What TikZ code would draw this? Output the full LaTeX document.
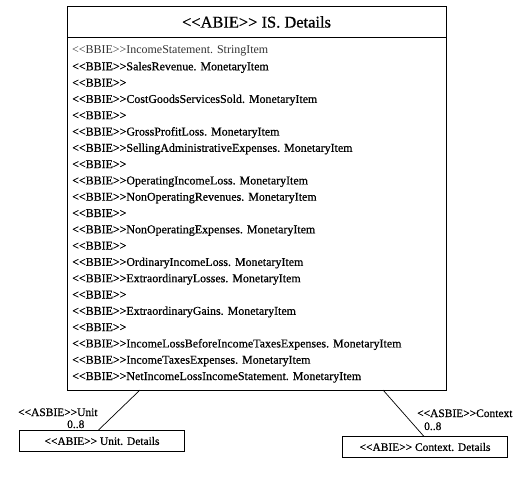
\documentclass[tikz,border=0pt]{standalone}
\usepackage{fontspec}
\setmainfont{Liberation Serif}
\newfontfamily\heavy{Liberation Serif}[FakeBold=0.6]
\newcommand{\bbie}{<\kern0pt<BBIE>\kern0pt>}
\newcommand{\abie}{<\kern0pt<ABIE>\kern0pt>}
\newcommand{\asbie}{<\kern0pt<ASBIE>\kern0pt>}
\begin{document}
\begin{tikzpicture}[x=1bp,y=-1bp,
  box/.style={draw, line width=0.9bp, inner sep=0},
  rowtxt/.style={anchor=base west, inner sep=0, font=\heavy\fontsize{12}{14}\selectfont},
  lab/.style={anchor=base west, inner sep=0, font=\heavy\fontsize{11.5}{13}\selectfont},
  conn/.style={draw, line width=0.7bp}]
\useasboundingbox (0,0) rectangle (522,477);
% main class box
\node[box, anchor=north west, minimum width=379bp, minimum height=384bp] (main) at (67,6) {};
\coordinate (sepL) at (67,37);
\coordinate (sepR) at (446,37);
\draw[line width=0.9bp] (sepL) -- (sepR);
\node[inner sep=0, font=\heavy\fontsize{16.5}{18}\selectfont] (title) at (256.5,22) {\abie{} IS. Details};
% attribute rows
\node[rowtxt, font=\fontsize{12}{14}\selectfont, text=black!80] (r1) at (72,54) {\bbie IncomeStatement. StringItem};
\foreach \t [count=\i from 2] in {
  SalesRevenue. MonetaryItem, {}, CostGoodsServicesSold. MonetaryItem, {},
  GrossProfitLoss. MonetaryItem, SellingAdministrativeExpenses. MonetaryItem, {},
  OperatingIncomeLoss. MonetaryItem, NonOperatingRevenues. MonetaryItem, {},
  NonOperatingExpenses. MonetaryItem, {}, OrdinaryIncomeLoss. MonetaryItem,
  ExtraordinaryLosses. MonetaryItem, {}, ExtraordinaryGains. MonetaryItem, {},
  IncomeLossBeforeIncomeTaxesExpenses. MonetaryItem,
  IncomeTaxesExpenses. MonetaryItem, NetIncomeLossIncomeStatement. MonetaryItem}
  \node[rowtxt] (r\i) at (72,{54+(\i-1)*16.3}) {\bbie\t};
% associated boxes
\node[box, minimum width=165bp, minimum height=21bp, font=\heavy\fontsize{11.5}{13}\selectfont] (unit) at (102,441) {\abie{} Unit. Details};
\node[box, minimum width=165bp, minimum height=21bp, font=\heavy\fontsize{11.5}{13}\selectfont] (ctx) at (425,447) {\abie{} Context. Details};
% connectors
\coordinate (ua) at (140,390);
\coordinate (ub) at (98,430.5);
\coordinate (ca) at (383,390);
\coordinate (cb) at (424,436.5);
\draw[conn] (ua) -- (ub);
\draw[conn] (ca) -- (cb);
% role labels
\node[lab] (ulab) at (18,416) {\asbie Unit};
\node[lab] (umul) at (67,428) {0..8};
\node[lab] (clab) at (417,417) {\asbie Context};
\node[lab] (cmul) at (424,430) {0..8};
\end{tikzpicture}
\end{document}
